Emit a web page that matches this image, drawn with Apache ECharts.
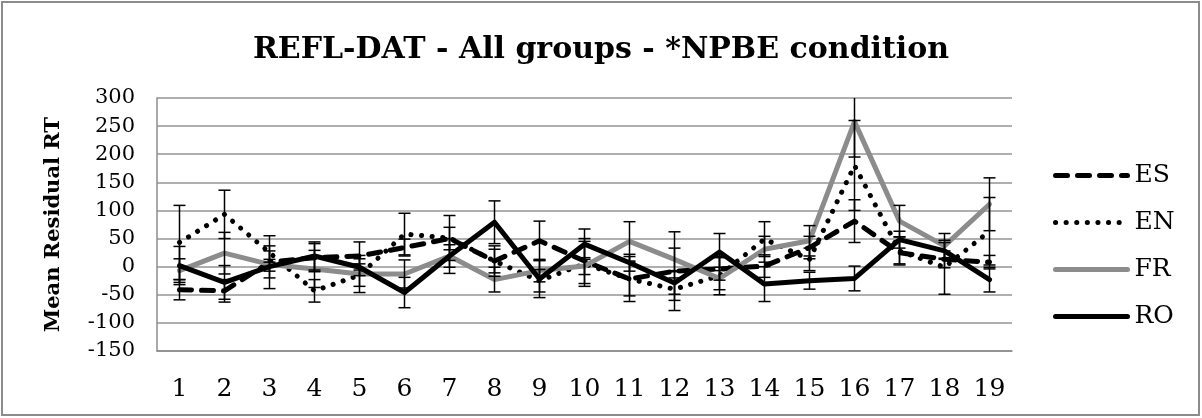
<!DOCTYPE html>
<html>
<head>
<meta charset="utf-8">
<script src="https://cdn.jsdelivr.net/npm/echarts@6/dist/echarts.min.js"></script>
<style>
  html, body { margin: 0; padding: 0; background: #fff; }
  #chart { width: 1202px; height: 418px; }
</style>
</head>
<body>
<div id="chart"></div>
<script>
var categories = ['1','2','3','4','5','6','7','8','9','10','11','12','13','14','15','16','17','18','19'];

// mean residual RT per group
var es = [-41, -43, 8, 16, 19, 34, 50, 10, 46, 10, -22, -8, -4, 1, 34, 81, 25, 13, 8];
var en = [43, 93, 25, -43, -15, 58, 51, 10, -25, 5, -22, -40, -16, 49, 13, 180, 28, -1, 63];
var fr = [-7, 24, 4, -4, -13, -13, 19, -23, -7, 1, 45, 13, -21, 31, 46, 258, 81, 37, 111];
var ro = [2, -28, 0, 19, -1, -46, 19, 79, -22, 40, 7, -29, 26, -31, -25, -21, 48, 28, -23];

// error bar half-lengths
var esErr = [18, 20, 47, 25, 25, 15, 20, 21, 35, 40, 40, 70, 20, 20, 20, 38, 20, 15, 12];
var enErr = [66, 43, 12, 20, 20, 37, 40, 27, 20, 40, 30, 20, 34, 31, 20, 80, 25, 48, 60];
var frErr = [21, 37, 24, 33, 33, 25, 20, 22, 20, 15, 35, 20, 20, 23, 27, 63, 28, 22, 47];
var roErr = [34, 30, 8, 25, 15, 27, 31, 38, 33, 27, 15, 20, 33, 31, 15, 22, 15, 15, 22];

var serif = 'DejaVu Serif';

function errData(vals, errs) {
    var out = [];
    for (var i = 0; i < vals.length; i++) {
        out.push([i, vals[i], errs[i]]);
    }
    return out;
}

function renderErr(params, api) {
    var i = api.value(0);
    var v = api.value(1);
    var e = api.value(2);
    var top = api.coord([i, v + e]);
    var bot = api.coord([i, v - e]);
    var hw = 6;
    var st = {stroke: '#000', lineWidth: 1.5};
    return {
        type: 'group',
        children: [
            {type: 'line', shape: {x1: top[0], y1: top[1], x2: bot[0], y2: bot[1]}, style: st},
            {type: 'line', shape: {x1: top[0] - hw, y1: top[1], x2: top[0] + hw, y2: top[1]}, style: st},
            {type: 'line', shape: {x1: bot[0] - hw, y1: bot[1], x2: bot[0] + hw, y2: bot[1]}, style: st}
        ]
    };
}

function errSeries(name, vals, errs) {
    return {
        name: name,
        type: 'custom',
        renderItem: renderErr,
        clip: true,
        encode: {x: 0, y: 1},
        data: errData(vals, errs),
        z: 5
    };
}

function lineSeries(name, data, color, dash) {
    return {
        name: name,
        type: 'line',
        symbol: 'none',
        data: data,
        lineStyle: {
            color: color,
            width: 5,
            type: dash,
            cap: 'round',
            join: 'round'
        },
        itemStyle: {color: color},
        z: 3
    };
}

var option = {
    animation: false,
    backgroundColor: '#fff',
    title: {
        text: 'REFL-DAT - All groups - *NPBE condition',
        left: 'center',
        top: 30,
        textStyle: {
            fontFamily: serif,
            fontWeight: 'bold',
            fontSize: 30,
            color: '#000'
        }
    },
    legend: {
        data: ['ES', 'EN', 'FR', 'RO'],
        orient: 'vertical',
        left: 1048,
        top: 158,
        itemWidth: 72,
        itemHeight: 14,
        itemGap: 22,
        itemStyle: {opacity: 0},
        lineStyle: {width: 'inherit', cap: 'round'},
        textStyle: {
            fontFamily: serif,
            fontSize: 25,
            color: '#000',
            padding: [0, 0, 0, 2]
        }
    },
    grid: {
        left: 157,
        right: 190,
        top: 98,
        bottom: 67,
        containLabel: false
    },
    xAxis: {
        type: 'category',
        data: categories,
        boundaryGap: true,
        axisLine: {onZero: false, lineStyle: {color: '#8c8c8c', width: 1.5}},
        axisTick: {show: false},
        axisLabel: {
            fontFamily: serif,
            fontSize: 25,
            color: '#000',
            margin: 26
        },
        splitLine: {show: false}
    },
    yAxis: {
        type: 'value',
        min: -150,
        max: 300,
        interval: 50,
        name: 'Mean Residual RT',
        nameLocation: 'middle',
        nameGap: 93,
        nameTextStyle: {
            fontFamily: serif,
            fontWeight: 'bold',
            fontSize: 21,
            color: '#000'
        },
        axisLine: {show: true, lineStyle: {color: '#8c8c8c', width: 1.5}},
        axisTick: {show: false},
        axisLabel: {
            fontFamily: serif,
            fontSize: 21,
            color: '#000',
            margin: 22
        },
        splitLine: {lineStyle: {color: '#959595', width: 1.5}}
    },
    graphic: [{
        type: 'rect',
        shape: {x: 2, y: 2, width: 1197, height: 413},
        style: {fill: 'none', stroke: '#8c8c8c', lineWidth: 2},
        silent: true
    }],
    series: [
        lineSeries('ES', es, '#000', [12, 10]),
        lineSeries('EN', en, '#000', [0.1, 10.5]),
        lineSeries('FR', fr, '#8c8c8c', 'solid'),
        lineSeries('RO', ro, '#000', 'solid'),
        errSeries('ES err', es, esErr),
        errSeries('EN err', en, enErr),
        errSeries('FR err', fr, frErr),
        errSeries('RO err', ro, roErr)
    ]
};

var myChart = echarts.init(document.getElementById('chart'));
myChart.setOption(option);
</script>
</body>
</html>
